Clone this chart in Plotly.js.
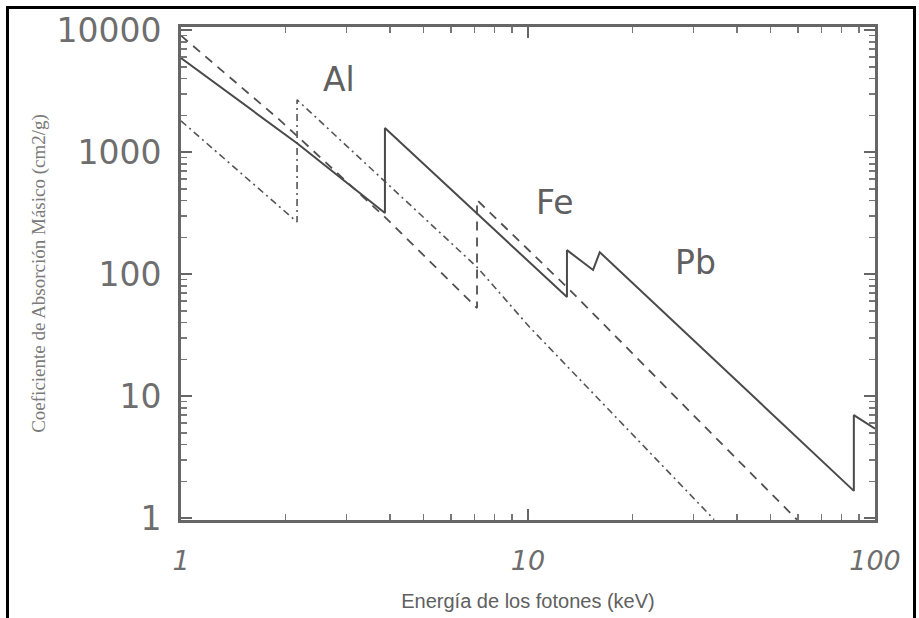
<!DOCTYPE html>
<html>
<head>
<meta charset="utf-8">
<script src="https://cdn.plot.ly/plotly-3.0.1.min.js"></script>
<style>
  html, body { margin: 0; padding: 0; background: #fff; }
  #wrap { position: relative; width: 919px; height: 618px; overflow: hidden; }
  #chart { position: absolute; left: 0; top: 0; width: 919px; height: 618px; }
  #frame { position: absolute; left: 6px; top: 6px; width: 904px; height: 640px;
           border-left: 3px solid #000; border-top: 3px solid #000; border-right: 3px solid #000;
           pointer-events: none; }
</style>
</head>
<body>
<div id="wrap">
  <div id="chart"></div>
  <div id="frame"></div>
</div>
<script>
// Energy (keV) and mass absorption coefficient (cm2/g)
const alEnergy = [1, 2.16, 2.16, 3.9, 7.13, 10.1, 34.4];
const alCoef   = [1800, 267, 2680, 557, 114, 36.8, 0.97];

const feEnergy = [1, 1.93, 3.87, 7.13, 7.13, 13.2, 33.4, 59.6];
const feCoef   = [9000, 1820, 293, 52.7, 404, 74, 5.1, 0.97];

const pbEnergy = [1, 2.16, 3.87, 3.87, 12.95, 12.95, 15.4, 16.1, 86.9, 86.9, 100];
const pbCoef   = [5900, 1180, 316, 1574, 64.8, 157, 108, 151, 1.67, 6.98, 5.4];

const elementLabels = ["Al", "Fe", "Pb"];
const labelEnergy   = [2.86, 11.96, 30.3];
const labelCoef     = [3930, 389, 125];

const xTickVals = [1, 10, 100];
const xTickText = ["1", "10", "100"];
const yTickVals = [1, 10, 100, 1000, 10000];
const yTickText = ["1", "10", "100", "1000", "10000"];

const lineColor = "#4a4a4a";

const traces = [
  { x: alEnergy, y: alCoef, type: "scatter", mode: "lines", name: "Al",
    line: { color: "#555", width: 1.6, dash: "7px,4px,2px,4px" } },
  { x: feEnergy, y: feCoef, type: "scatter", mode: "lines", name: "Fe",
    line: { color: "#505050", width: 1.8, dash: "9px,7px" } },
  { x: pbEnergy, y: pbCoef, type: "scatter", mode: "lines", name: "Pb",
    line: { color: lineColor, width: 2 } }
];

const annotations = elementLabels.map((t, i) => ({
  x: Math.log10(labelEnergy[i]), y: Math.log10(labelCoef[i]),
  xref: "x", yref: "y", text: t, showarrow: false,
  font: { family: "DejaVu Sans, Arial, sans-serif", size: 33, color: "#606060" }
}));

const layout = {
  width: 919, height: 618,
  margin: { l: 181, r: 44, t: 27, b: 98, pad: 0 },
  paper_bgcolor: "#fff", plot_bgcolor: "#fff",
  showlegend: false,
  xaxis: {
    type: "log", range: [0, 2], autorange: false,
    showline: true, linewidth: 3, linecolor: "#666", mirror: "ticks",
    ticks: "inside", ticklen: 11, tickwidth: 2, tickcolor: "#666",
    minor: { ticks: "inside", ticklen: 6, tickwidth: 1.5, tickcolor: "#777", dtick: "D1", showgrid: false },
    tickvals: xTickVals, ticktext: xTickText,
    ticklabelstandoff: 15,
    tickfont: { family: "DejaVu Sans, Arial, sans-serif", size: 27, color: "#6e6e6e", style: "italic" },
    showgrid: false, zeroline: false,
    title: { text: "Energía de los fotones (keV)", standoff: 19,
             font: { family: "Liberation Sans, Arial, sans-serif", size: 20, color: "#606060" } }
  },
  yaxis: {
    type: "log", range: [-0.016, 4.025], autorange: false,
    showline: true, linewidth: 3, linecolor: "#666", mirror: "ticks",
    ticks: "inside", ticklen: 11, tickwidth: 2, tickcolor: "#666",
    minor: { ticks: "inside", ticklen: 6, tickwidth: 1.5, tickcolor: "#777", dtick: "D1", showgrid: false },
    tickvals: yTickVals, ticktext: yTickText,
    ticklabelstandoff: 10,
    tickfont: { family: "DejaVu Sans, Arial, sans-serif", size: 33, color: "#6e6e6e" },
    showgrid: false, zeroline: false,
    title: { text: "Coeficiente de Absorción Másico (cm2/g)", standoff: 6,
             font: { family: "Liberation Serif, Times New Roman, serif", size: 19, color: "#7a7a7a" } }
  },
  annotations: annotations
};

Plotly.newPlot("chart", traces, layout, { staticPlot: true, displayModeBar: false });
</script>
</body>
</html>
